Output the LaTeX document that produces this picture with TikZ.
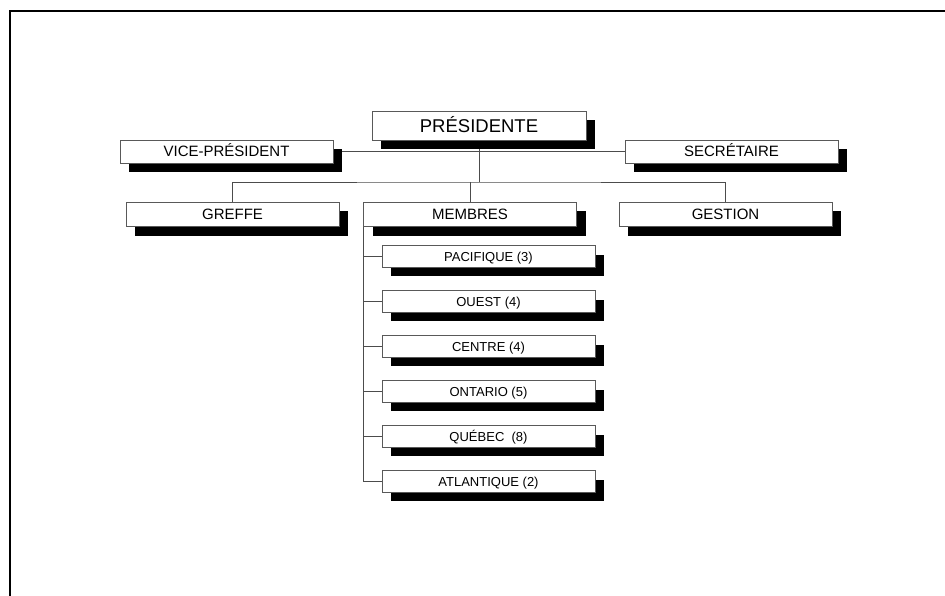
\documentclass[tikz,border=0pt]{standalone}
\usepackage{fontspec}
\setmainfont{Liberation Sans}
\usetikzlibrary{shadows, backgrounds}

\tikzset{
  orgbox/.style={draw=black!65, line width=0.9pt, fill=white, inner sep=0pt,
    minimum width=213pt, minimum height=23pt, font=\fontsize{15}{17}\selectfont,
    text height=10.8pt, text depth=0pt,
    drop shadow={shadow xshift=9pt, shadow yshift=-9pt, opacity=1, fill=black}},
  presbox/.style={orgbox, minimum width=214pt, minimum height=29pt,
    font=\fontsize{18.5}{20}\selectfont, text height=13.3pt},
  regbox/.style={orgbox, minimum height=21.5pt, font=\fontsize{13}{15}\selectfont, text height=9.4pt},
  link/.style={draw=black!70, line width=0.9pt}
}

\begin{document}
\begin{tikzpicture}[x=1pt,y=-1pt]
\useasboundingbox (0,0) rectangle (945,596);
\draw[line width=2pt] (945,11) -- (10,11) -- (10,596);

% top levels
\node[presbox] (pres) at (479,125.5) {PRÉSIDENTE};
\node[orgbox] (vp) at (226.5,151.5) {VICE-PRÉSIDENT};
\node[orgbox] (sec) at (731.5,151.5) {SECRÉTAIRE};
\node[orgbox, minimum height=24.5pt] (greffe) at (232.5,214.5) {GREFFE};
\node[orgbox, minimum height=24.5pt] (membres) at (470,214.5) {MEMBRES};
\node[orgbox, minimum height=24.5pt] (gestion) at (725.5,214.5) {GESTION};
\coordinate (bus) at (479,182);

% regions
\foreach \name/\txt [count=\i from 0] in {pac/PACIFIQUE (3), ouest/OUEST (4), centre/CENTRE (4), ont/ONTARIO (5), qc/QUÉBEC\ \ (8), atl/ATLANTIQUE (2)}
  \node[regbox] (\name) at (488.5,256.5+45*\i) {\txt};

\begin{scope}[on background layer]
\draw[link] (vp.east) -- (sec.west);
\draw[link] (pres.south) -- (bus);
\draw[link] (greffe.north) |- (bus) -| (gestion.north);
\draw[link] (membres.north) -- (membres.north |- bus);
\draw[link] (membres.south west) |- (atl.west);
\foreach \name in {pac, ouest, centre, ont, qc}
  \draw[link] (membres.south west |- \name.west) -- (\name.west);
\end{scope}
\end{tikzpicture}
\end{document}
